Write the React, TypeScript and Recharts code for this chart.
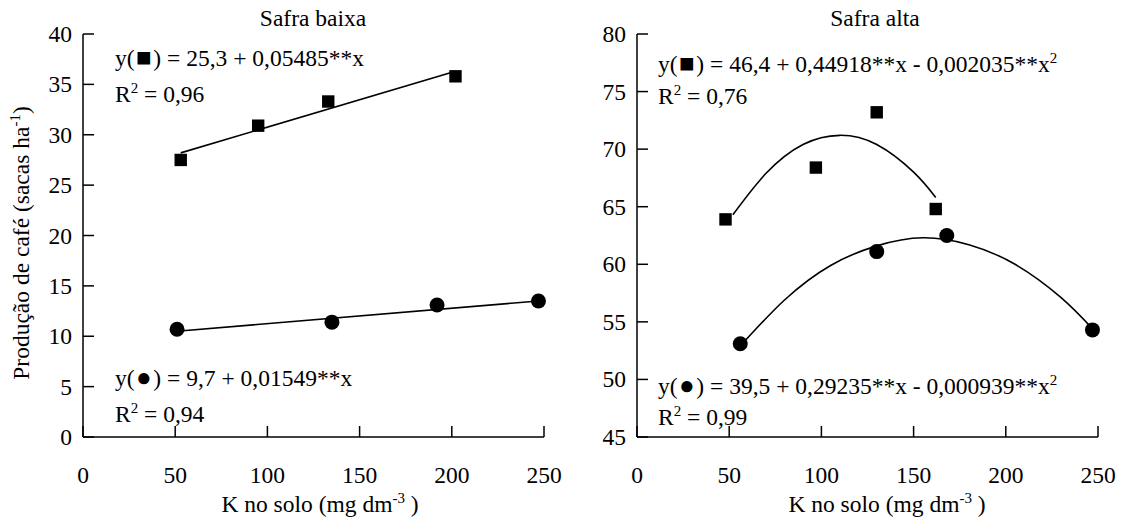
import React from 'react';
import { ComposedChart, Line, Scatter, XAxis, YAxis } from 'recharts';

const FONT = "'Liberation Serif', 'Times New Roman', Times, serif";
const FS = 23.5;
const TEXT_STYLE = { fontFamily: FONT, fontSize: FS, fill: '#000' };

const xTicks = [0, 50, 100, 150, 200, 250];
const lowYTicks = [0, 5, 10, 15, 20, 25, 30, 35, 40];
const highYTicks = [45, 50, 55, 60, 65, 70, 75, 80];

// Safra baixa
const lowSquareX = [53, 95, 133, 202];
const lowSquareY = [27.5, 30.9, 33.3, 35.8];
const lowSquareFitX = [53, 202];
const lowSquareFitY = [28.2, 36.3];
const lowCircleX = [51, 135, 192, 247];
const lowCircleY = [10.7, 11.4, 13.1, 13.5];
const lowCircleFitX = [51, 247];
const lowCircleFitY = [10.5, 13.5];

// Safra alta
const highSquareX = [48, 97, 130, 162];
const highSquareY = [63.9, 68.4, 73.2, 64.8];
const highSquareFitX = [52, 70, 90, 110, 130, 150, 162];
const highSquareFitY = [64.3, 67.9, 70.4, 71.2, 70.4, 68.0, 65.8];
const highCircleX = [56, 130, 168, 247];
const highCircleY = [53.1, 61.1, 62.5, 54.3];
const highCircleFitX = [56, 80, 105, 130, 155, 180, 205, 230, 247];
const highCircleFitY = [52.9, 56.9, 59.9, 61.6, 62.3, 61.7, 60.0, 57.1, 54.4];

const zip = (xs: number[], ys: number[]) => xs.map((x, i) => ({ x, y: ys[i] }));

const CHART_W = 570;
const CHART_H = 522;
const PLOT_LEFT = 83;
const PLOT_BOTTOM = 437;
const AXIS = { stroke: '#000', strokeWidth: 1.5 };

const renderYTick = (props: any) => (
  <text x={PLOT_LEFT - 11} y={props.y + 8} textAnchor="end" style={TEXT_STYLE}>
    {props.payload.value}
  </text>
);

const renderXTick = (props: any) => (
  <text x={props.x} y={PLOT_BOTTOM + 46} textAnchor="middle" style={TEXT_STYLE}>
    {props.payload.value}
  </text>
);

const SquareDot = (props: any) => (
  <rect x={props.cx - 6.2} y={props.cy - 6.2} width={12.4} height={12.4} fill="#000" />
);

const CircleDot = (props: any) => <circle cx={props.cx} cy={props.cy} r={7.5} fill="#000" />;

type Pt = { x: number; y: number };
type PanelProps = {
  left: number;
  yDomain: [number, number];
  yTicks: number[];
  squares: Pt[];
  squareFit: Pt[];
  circles: Pt[];
  circleFit: Pt[];
};

function Panel({ left, yDomain, yTicks, squares, squareFit, circles, circleFit }: PanelProps) {
  return (
    <div style={{ position: 'absolute', left, top: 0 }}>
      <ComposedChart width={CHART_W} height={CHART_H} margin={{ top: 34, right: 26, bottom: 85, left: PLOT_LEFT }}>
        <XAxis
          type="number"
          dataKey="x"
          domain={[0, 250]}
          ticks={xTicks}
          interval={0}
          mirror
          tickSize={11}
          axisLine={AXIS}
          tickLine={AXIS}
          tick={renderXTick}
        />
        <YAxis
          type="number"
          domain={yDomain}
          ticks={yTicks}
          interval={0}
          mirror
          tickSize={11}
          axisLine={AXIS}
          tickLine={AXIS}
          tick={renderYTick}
        />
        <Line data={squareFit} dataKey="y" type="natural" stroke="#000" strokeWidth={1.6} dot={false} isAnimationActive={false} />
        <Line data={circleFit} dataKey="y" type="natural" stroke="#000" strokeWidth={1.6} dot={false} isAnimationActive={false} />
        <Scatter data={squares} dataKey="y" shape={SquareDot} isAnimationActive={false} />
        <Scatter data={circles} dataKey="y" shape={CircleDot} isAnimationActive={false} />
      </ComposedChart>
    </div>
  );
}

// text with one superscript: before + sup + after
function SupText({ x, y, before, sup, after = '', anchor = 'start', transform }: any) {
  return (
    <text x={x} y={y} textAnchor={anchor} transform={transform} style={TEXT_STYLE}>
      {before}
      <tspan dy={-9} style={{ fontSize: 15 }}>{sup}</tspan>
      {after ? <tspan dy={9}>{after}</tspan> : null}
    </text>
  );
}

// regression equation with the series marker drawn as a larger glyph
function Equation({ x, y, mark, rest, sup }: { x: number; y: number; mark: string; rest: string; sup?: string }) {
  return (
    <text x={x} y={y} style={TEXT_STYLE}>
      y(
      <tspan dx={1.5} style={{ fontSize: 26 }}>{mark}</tspan>
      <tspan dx={1.5}>{rest}</tspan>
      {sup ? <tspan dy={-9} style={{ fontSize: 15 }}>{sup}</tspan> : null}
    </text>
  );
}

export default function App() {
  return (
    <div style={{ position: 'absolute', left: 0, top: 0, width: 1124, height: 522, background: '#fff' }}>
      <Panel
        left={0}
        yDomain={[0, 40]}
        yTicks={lowYTicks}
        squares={zip(lowSquareX, lowSquareY)}
        squareFit={zip(lowSquareFitX, lowSquareFitY)}
        circles={zip(lowCircleX, lowCircleY)}
        circleFit={zip(lowCircleFitX, lowCircleFitY)}
      />
      <Panel
        left={554}
        yDomain={[45, 80]}
        yTicks={highYTicks}
        squares={zip(highSquareX, highSquareY)}
        squareFit={zip(highSquareFitX, highSquareFitY)}
        circles={zip(highCircleX, highCircleY)}
        circleFit={zip(highCircleFitX, highCircleFitY)}
      />
      <svg width={1124} height={522} style={{ position: 'absolute', left: 0, top: 0, pointerEvents: 'none' }}>
        <text x={313} y={26} textAnchor="middle" style={TEXT_STYLE}>Safra baixa</text>
        <text x={875} y={26} textAnchor="middle" style={TEXT_STYLE}>Safra alta</text>

        <Equation x={115} y={66} mark="■" rest=") = 25,3 + 0,05485**x" />
        <SupText x={115} y={102} before="R" sup="2" after=" = 0,96" />
        <Equation x={115} y={386} mark="●" rest=") = 9,7 + 0,01549**x" />
        <SupText x={115} y={422} before="R" sup="2" after=" = 0,94" />

        <Equation x={658} y={72} mark="■" rest=") = 46,4 + 0,44918**x - 0,002035**x" sup="2" />
        <SupText x={658} y={104} before="R" sup="2" after=" = 0,76" />
        <Equation x={658} y={394} mark="●" rest=") = 39,5 + 0,29235**x - 0,000939**x" sup="2" />
        <SupText x={658} y={425} before="R" sup="2" after=" = 0,99" />

        <SupText x={320} y={512} anchor="middle" before="K no solo (mg dm" sup="-3" after=" )" />
        <SupText x={887} y={512} anchor="middle" before="K no solo (mg dm" sup="-3" after=" )" />
        <SupText
          x={0}
          y={0}
          anchor="middle"
          transform="translate(29,243) rotate(-90)"
          before="Produção de café (sacas ha"
          sup="-1"
          after=")"
        />
      </svg>
    </div>
  );
}
